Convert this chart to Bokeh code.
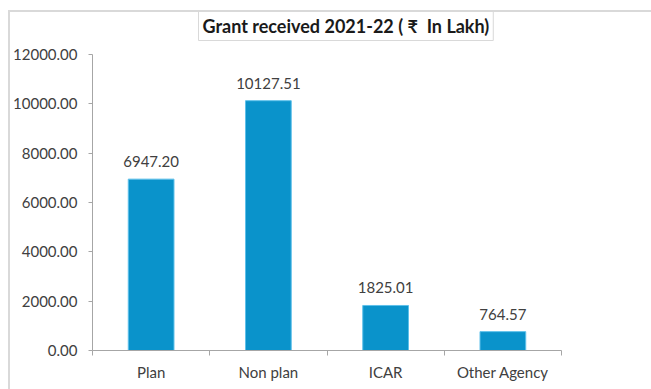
from bokeh.plotting import figure
from bokeh.models import ColumnDataSource, LabelSet, Label, FixedTicker, NumeralTickFormatter, Range1d
from bokeh.core.properties import value
from bokeh.embed import file_html
from bokeh.resources import INLINE

categories = ["Plan", "Non plan", "ICAR", "Other Agency"]
values = [6947.20, 10127.51, 1825.01, 764.57]
y_ticks = [0, 2000, 4000, 6000, 8000, 10000, 12000]
title_text = "Grant received 2021-22 ( \u20b9\u00a0\u00a0In Lakh)"

xs = [i + 0.5 for i in range(len(categories))]
src = ColumnDataSource(dict(x=xs, top=values, label=[f"{v:.2f}" for v in values]))

FONT = "Lato"
TXT = "#404040"
AX = "#a6a6a6"

p = figure(frame_width=469, frame_height=296, output_backend="svg", toolbar_location=None,
           x_range=Range1d(0, len(categories)), y_range=Range1d(0, 12000),
           min_border_left=81, min_border_right=91, min_border_top=42, min_border_bottom=39,
           styles={"margin-left": "8px", "margin-top": "10px",
                   "border-left": "2px solid #d9d9d9", "border-top": "2px solid #d9d9d9"})
p.outline_line_color = None
p.grid.visible = False

p.vbar(x="x", top="top", width=0.39, source=src, fill_color="#0a93cb", line_color="#5ec0ea", line_width=1)

p.add_layout(LabelSet(x="x", y="top", text="label", source=src, text_align="center",
                      text_baseline="alphabetic", y_offset=12, text_font=value(FONT),
                      text_font_size="15px", text_color=TXT))

p.xaxis.ticker = FixedTicker(ticks=xs, minor_ticks=list(range(len(categories) + 1)))
p.xaxis.major_label_overrides = {x: c for x, c in zip(xs, categories)}
p.xaxis.major_tick_out = 0
p.xaxis.major_tick_in = 0
p.xaxis.minor_tick_out = 5
p.xaxis.minor_tick_in = 0
p.xaxis.minor_tick_line_color = AX
p.xaxis.axis_line_color = AX
p.xaxis.major_label_standoff = 7

p.yaxis.ticker = FixedTicker(ticks=y_ticks, minor_ticks=[])
p.yaxis.formatter = NumeralTickFormatter(format="0.00")
p.yaxis.major_tick_out = 4
p.yaxis.major_tick_in = 0
p.yaxis.major_tick_line_color = AX
p.yaxis.axis_line_color = AX
p.yaxis.major_label_standoff = 11

for ax in (p.xaxis, p.yaxis):
    ax.major_label_text_font = FONT
    ax.major_label_text_font_size = "15px"
    ax.major_label_text_color = TXT

title = Label(x=106, y=29, x_units="screen", y_units="screen", text=title_text,
              text_align="left", text_baseline="middle", text_font=FONT,
              text_font_style="bold", text_font_size="18px", text_color="#1a1a1a",
              border_line_color="#d9d9d9", background_fill_color="white", padding=4)
p.add_layout(title, "above")

open("out.html", "w").write(file_html(p, INLINE))
